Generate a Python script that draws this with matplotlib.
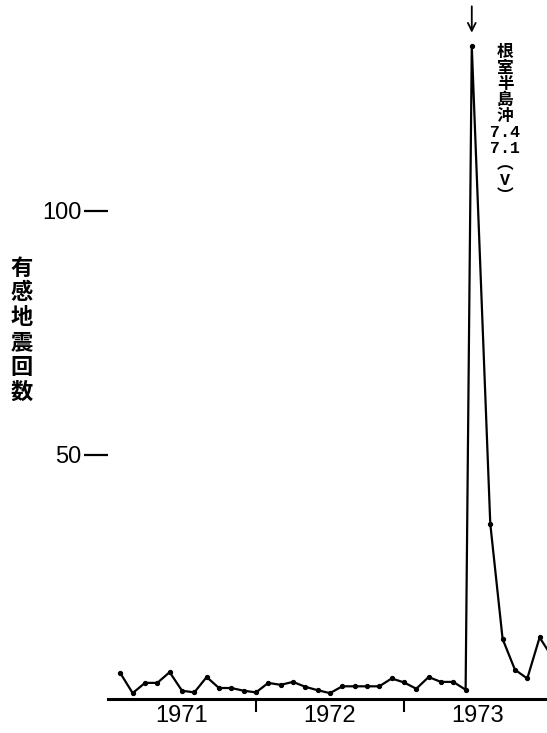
import matplotlib.pyplot as plt

# numero de terremotos sentidos por mes, 1971-1973
meses = [1, 2, 3, 4, 5, 6, 7, 8, 9, 10, 11, 12,
         13, 14, 15, 16, 17, 18, 19, 20, 21, 22, 23, 24,
         25, 26, 27, 28, 29, 29.5, 31, 32, 33, 34, 35, 36]
contagem = [5.3, 1.2, 3.3, 3.3, 5.5, 1.7, 1.35, 4.5, 2.25, 2.25, 1.7, 1.35,
            3.3, 2.9, 3.5, 2.5, 1.8, 1.2, 2.6, 2.6, 2.6, 2.6, 4.2, 3.4,
            2.1, 4.5, 3.5, 3.5, 1.9, 133.7, 35.9, 12.3, 6.0, 4.2, 12.6, 8.7]
anos = ["1971", "1972", "1973"]
limites_ano = [12, 24]
centros_ano = [6, 18, 30]
yticks = [50, 100]
rotulo_y = "有感地震回数"
evento = ["根", "室", "半", "島", "沖", "7.4", "7.1", "︵", "V", "︶"]

cjk = ['Noto Sans CJK JP', 'DejaVu Sans']

fig = plt.figure(figsize=(5.47, 7.33), dpi=100)
ax = fig.add_axes([108 / 547, 34 / 733, 439 / 547, 699 / 733])

ax.plot(meses, contagem, color="black", lw=1.6, marker="o", ms=2.8)

ax.set_xlim(0, 35.6)
ax.set_ylim(0, 143.2)

for s in ["top", "right", "left"]:
    ax.spines[s].set_visible(False)
ax.spines["bottom"].set_linewidth(2.2)

ax.set_xticks(limites_ano)
ax.set_xticklabels([])
ax.tick_params(axis="x", which="major", direction="out", length=9.5, width=1.5)
ax.set_xticks(centros_ano, minor=True)
ax.set_xticklabels(anos, minor=True, fontsize=17, family="Liberation Sans")
ax.tick_params(axis="x", which="minor", length=0, pad=4)

ax.set_yticks(yticks)
ax.set_yticklabels([str(v) for v in yticks], fontsize=17, family="Liberation Sans")
ax.tick_params(axis="y", direction="out", length=17, width=1.6, pad=2)

fig.text(22 / 547, 1 - 330 / 733, "\n".join(rotulo_y), family=cjk,
         fontsize=16, fontweight="bold", ha="center", va="center",
         linespacing=1.1)

# terremoto do largo de Nemuro, junho 1973
pico = contagem.index(max(contagem))
ax.annotate("", xy=(meses[pico], contagem[pico] + 2.8),
            xytext=(meses[pico], contagem[pico] + 8.2),
            arrowprops=dict(arrowstyle="->", color="black", lw=1.3,
                            mutation_scale=14, shrinkA=0, shrinkB=0))
ax.text(32.2, contagem[pico] + 0.3, "\n".join(evento),
        family=['Liberation Mono', 'Noto Sans CJK JP'], fontsize=12,
        fontweight="bold", ha="center", va="top", linespacing=1.08)

fig.savefig("out.png", dpi=100, facecolor="white")
